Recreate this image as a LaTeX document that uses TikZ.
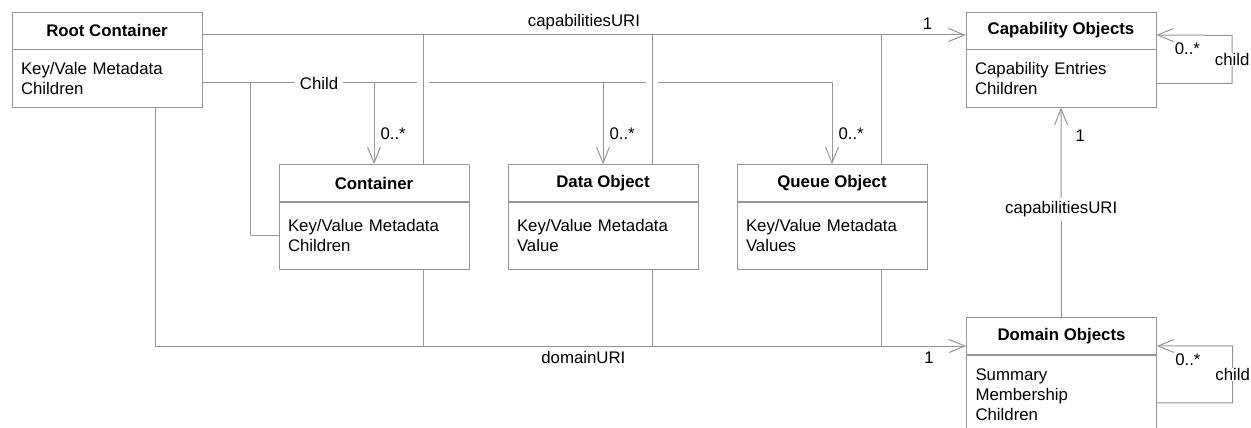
\documentclass[tikz,border=0pt]{standalone}
\usepackage{fontspec}
\setmainfont{Liberation Sans}
\usetikzlibrary{arrows.meta,positioning,backgrounds}
\definecolor{umlline}{RGB}{150,150,150}
\newcommand{\diagfont}{\fontsize{16.8}{20}\selectfont}
\tikzset{
  classhd/.style={draw=umlline, fill=white, minimum width=190pt, minimum height=37pt, inner sep=0pt, font=\diagfont\bfseries},
  classbd/.style={draw=umlline, fill=white, text width=172pt, inner xsep=9pt, inner ysep=0pt, align=left, font=\diagfont},
  link/.style={draw=umlline, line width=1pt},
  assoc/.style={link, -{Straight Barb[length=16pt,width=13pt]}},
  hop/.style={link, preaction={draw=white, line width=12pt}},
  lbl/.style={fill=white, inner xsep=5pt, inner ysep=1pt},
  mult/.style={inner sep=2pt},
}

\begin{document}
\begin{tikzpicture}[x=1pt, y=-1pt, font=\diagfont]
  \useasboundingbox (0,0) rectangle (1251,428);

  % classes
  \node[classhd] (roothd) at (107,30.5) {Root Container};
  \node[classbd, minimum height=58pt, below=0pt of roothd] (rootbd) {Key/Vale Metadata\\Children};

  \node[classhd] (conthd) at (374,183) {Container};
  \node[classbd, minimum height=67pt, below=0pt of conthd] (contbd) {Key/Value Metadata\\Children};

  \node[classhd] (datahd) at (603,183) {Data Object};
  \node[classbd, minimum height=67pt, below=0pt of datahd] (databd) {Key/Value Metadata\\Value};

  \node[classhd] (queuehd) at (832,183) {Queue Object};
  \node[classbd, minimum height=67pt, below=0pt of queuehd] (queuebd) {Key/Value Metadata\\Values};

  \node[classhd] (caphd) at (1061,30.5) {Capability Objects};
  \node[classbd, minimum height=58pt, below=0pt of caphd] (capbd) {Capability Entries\\Children};

  \node[classhd] (domhd) at (1061.5,336) {Domain Objects};
  \node[classbd, minimum height=80pt, below=0pt of domhd] (dombd) {Summary\\Membership\\Children};

  % tracks
  \coordinate (capy) at (0,35);
  \coordinate (chy) at (0,83);
  \coordinate (domy) at (0,346);
  \coordinate (selfjoin) at (250,83);

  \begin{scope}[on background layer]
    % child links
    \draw[assoc] (rootbd.east |- chy) -- node[lbl, pos=0.68] {Child} (conthd.north |- chy)
      -- node[mult, right, pos=0.62, xshift=4pt] {0..*} (conthd.north);
    \draw[assoc] (conthd.north |- chy) -- (datahd.north |- chy)
      -- node[mult, right, pos=0.62, xshift=4pt] {0..*} (datahd.north);
    \draw[assoc] (datahd.north |- chy) -- (queuehd.north |- chy)
      -- node[mult, right, pos=0.62, xshift=4pt] {0..*} (queuehd.north);
    \draw[link] (contbd.west) -| (selfjoin);

    % uri links of the objects
    \foreach \cls in {cont,data,queue} {
      \draw[hop] ([xshift=49pt]\cls hd.north) -- ([xshift=49pt]\cls hd.north |- capy);
      \draw[link] ([xshift=49pt]\cls bd.south) -- ([xshift=49pt]\cls bd.south |- domy);
    }

    \draw[assoc] (roothd.east |- capy)
      -- node[above, pos=0.5, inner sep=5pt] {capabilitiesURI}
         node[above, pos=0.95, inner sep=5pt] {1} (caphd.west |- capy);
    \draw[assoc] ([xshift=48pt]rootbd.south)
      |- node[below, pos=0.764, inner sep=5pt] {domainURI}
         node[below, pos=0.977, inner sep=5pt] {1} (domhd.west |- domy);

    % domain to capability
    \draw[assoc] (domhd.north)
      -- node[lbl, inner ysep=4pt, pos=0.514] {capabilitiesURI}
         node[mult, right, pos=0.867, xshift=12pt] {1} (capbd.south);

    % self links
    \draw[assoc] ([yshift=-5pt]capbd.east) -- ++(76,0)
      -- node[lbl, inner xsep=1pt, inner ysep=0.5pt] {child} ++(0,-48)
      -- node[mult, below=5pt, pos=0.59] {0..*} ([yshift=-4.5pt]caphd.east);
    \draw[assoc] ([yshift=-8pt]dombd.east) -- ++(76,0)
      -- node[lbl, inner xsep=1pt, inner ysep=0.5pt] {child} ++(0,-57)
      -- node[mult, below=5pt, pos=0.59] {0..*} ([yshift=-10pt]domhd.east);
  \end{scope}
\end{tikzpicture}
\end{document}
